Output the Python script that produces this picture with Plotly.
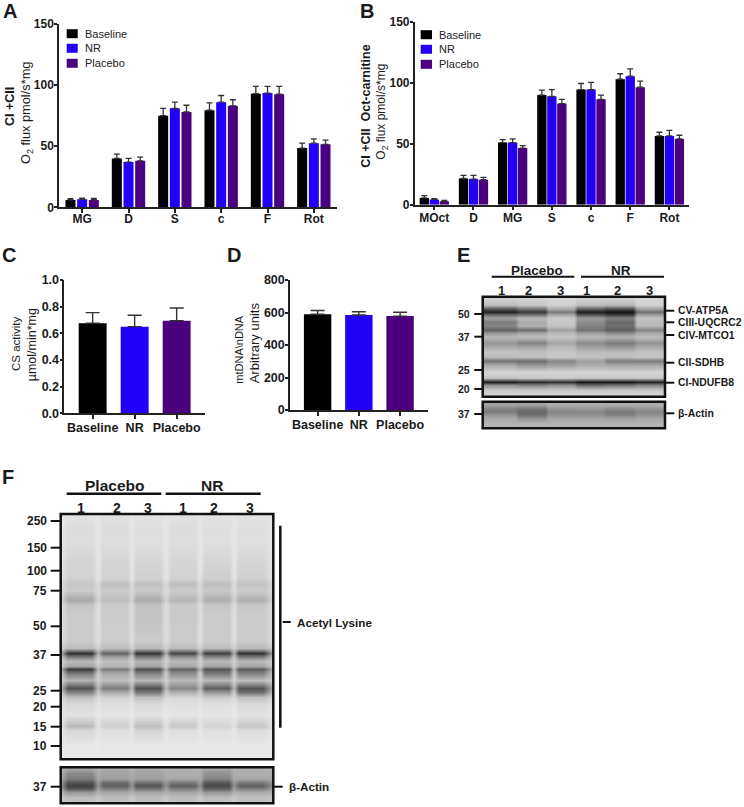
import plotly.graph_objects as go

# ---------- data ----------
GROUPS = ["Baseline", "NR", "Placebo"]
BLACK, BLUE, PURPLE = "#000000", "#2200F5", "#4B0080"
COLORS = [BLACK, BLUE, PURPLE]

A_CATS = ["MG", "D", "S", "c", "F", "Rot"]
A_BASE = [6, 40, 75, 79.5, 93, 48.5]
A_NR = [6.5, 37, 81, 86, 93.5, 52.5]
A_PLAC = [6, 38, 78, 83, 92.5, 51.5]
A_BASE_ERR = [1, 3.5, 6, 6, 6, 4]
A_NR_ERR = [1, 3, 5, 5.5, 5.5, 3.5]
A_PLAC_ERR = [1.2, 3, 5.5, 5, 6.5, 3.5]

B_CATS = ["MOct", "D", "MG", "S", "c", "F", "Rot"]
B_BASE = [5.5, 21.5, 51, 90, 94.5, 103, 56.5]
B_NR = [4.3, 21, 51, 89, 94.5, 105.5, 56.5]
B_PLAC = [2.8, 20.5, 46.5, 83, 86.5, 96.5, 54]
B_BASE_ERR = [2, 2.5, 2.5, 4, 5, 4.5, 3]
B_NR_ERR = [0.7, 3, 3, 5.5, 6, 6, 4.5]
B_PLAC_ERR = [0.7, 2, 2, 3.5, 3.5, 5, 3]

C_VALS = [0.675, 0.65, 0.695]
C_ERR = [0.08, 0.085, 0.095]
D_VALS = [590, 585, 578]
D_ERR = [22, 20, 24]

# Blot E: grey level per lane (6 lanes) at each row
E_LANES = [501.7, 531.7, 561, 590, 620, 650]
E_ROWS = [297, 305, 309, 312, 315, 318, 322, 326, 330, 333, 337, 343, 347, 352, 357, 361, 365, 372, 378, 382, 385, 390, 397]
E_GREYS = [
    [212, 212, 214, 212, 212, 214],
    [190, 200, 210, 190, 185, 210],
    [85, 115, 170, 95, 75, 160],
    [35, 55, 120, 30, 20, 110],
    [110, 120, 170, 90, 65, 160],
    [165, 185, 200, 155, 130, 195],
    [125, 170, 200, 140, 105, 190],
    [135, 175, 195, 130, 110, 185],
    [95, 110, 160, 115, 95, 130],
    [150, 165, 185, 160, 140, 170],
    [185, 190, 200, 185, 180, 190],
    [150, 130, 165, 140, 125, 145],
    [170, 165, 185, 160, 150, 170],
    [198, 192, 200, 188, 190, 196],
    [188, 192, 200, 196, 192, 196],
    [115, 110, 135, 160, 125, 125],
    [170, 150, 160, 172, 168, 168],
    [212, 212, 212, 212, 212, 212],
    [198, 202, 202, 202, 202, 202],
    [25, 40, 45, 20, 20, 30],
    [140, 130, 140, 105, 115, 130],
    [200, 200, 200, 200, 200, 200],
    [218, 218, 218, 218, 218, 218],
]
E_ACT_ROWS = [402, 406, 409, 412, 415, 418, 423, 428]
E_ACT_GREYS = [
    [172, 172, 176, 176, 176, 176],
    [155, 150, 170, 170, 168, 170],
    [130, 115, 145, 148, 135, 145],
    [125, 105, 135, 135, 122, 135],
    [150, 110, 145, 145, 130, 145],
    [168, 145, 163, 163, 158, 166],
    [178, 178, 178, 178, 178, 178],
    [186, 186, 186, 186, 186, 186],
]

# Blot F: grey level per lane, plus the lighter gap between lanes
F_LANES = [80, 115, 148, 182.5, 217, 251]
F_ROWS = [514, 530, 540, 560, 578, 584, 590, 600, 605, 619, 630, 640, 648, 653, 657, 661, 666, 669, 673, 680, 688, 692, 697, 703, 715, 726, 730, 745, 759]
F_GREYS = [
    [226, 226, 226, 226, 226, 226],
    [220, 220, 222, 220, 222, 222],
    [222, 222, 223, 222, 223, 223],
    [213, 214, 214, 214, 214, 214],
    [210, 210, 208, 210, 206, 208],
    [198, 190, 192, 190, 190, 194],
    [203, 203, 201, 203, 201, 203],
    [168, 190, 172, 182, 174, 176],
    [198, 203, 196, 201, 198, 198],
    [203, 203, 196, 201, 203, 203],
    [203, 206, 198, 203, 203, 203],
    [203, 203, 203, 203, 203, 203],
    [188, 190, 186, 188, 188, 186],
    [50, 100, 55, 70, 65, 50],
    [130, 165, 130, 150, 140, 130],
    [185, 190, 180, 185, 185, 185],
    [165, 180, 165, 170, 165, 165],
    [60, 125, 80, 100, 85, 90],
    [120, 170, 130, 140, 120, 130],
    [180, 190, 185, 185, 185, 190],
    [80, 125, 80, 135, 95, 85],
    [130, 170, 120, 175, 150, 110],
    [190, 210, 190, 215, 205, 190],
    [215, 222, 215, 222, 222, 215],
    [226, 228, 226, 228, 228, 226],
    [185, 208, 190, 202, 212, 200],
    [215, 222, 212, 222, 224, 220],
    [230, 230, 230, 230, 230, 230],
    [232, 232, 232, 232, 232, 232],
]
F_GAPS = [230, 230, 230, 230, 228, 220, 220, 213, 223, 223, 223, 223, 210, 175, 205, 210, 205, 185, 205, 210, 185, 205, 220, 228, 232, 228, 230, 232, 234]
F_ACT_ROWS = [767, 772, 778, 782, 785, 788, 792, 797, 803]
F_ACT_GREYS = [
    [175, 175, 175, 175, 175, 175],
    [140, 165, 165, 175, 150, 175],
    [125, 160, 160, 170, 135, 170],
    [85, 110, 115, 125, 90, 125],
    [65, 95, 85, 95, 75, 95],
    [85, 125, 115, 125, 95, 125],
    [155, 170, 170, 170, 155, 175],
    [190, 190, 190, 190, 190, 190],
    [195, 195, 195, 195, 195, 195],
]
F_ACT_GAPS = [180, 175, 170, 155, 145, 160, 180, 200, 205]

# ---------- layout helpers ----------
W, H = 744, 807
FONT = "Liberation Sans"
INK = "#1a1a1a"


def px(x):
    return x / W


def py(y):
    return 1 - y / H


fig = go.Figure()
annotations, shapes = [], []


def txt(x, y, s, size=12, bold=True, anchor="left", angle=0, color=INK):
    annotations.append(dict(
        x=px(x), y=py(y), xref="paper", yref="paper", text=f"<b>{s}</b>" if bold else s,
        showarrow=False, xanchor="center" if angle else anchor, yanchor="middle", textangle=angle, borderpad=0,
        font=dict(family=FONT, size=size, color=color)))


def line(x0, y0, x1, y1, w=2):
    shapes.append(dict(type="line", xref="paper", yref="paper", x0=px(x0), y0=py(y0), x1=px(x1), y1=py(y1),
                       line=dict(color="#111111", width=w)))


def box(x0, y0, x1, y1, w=2.5):
    shapes.append(dict(type="rect", xref="paper", yref="paper", x0=px(x0), y0=py(y0), x1=px(x1), y1=py(y1),
                       line=dict(color="#111111", width=w), fillcolor="rgba(0,0,0,0)", layer="above"))


def set_axes(n, x0, x1, ytop, ybot, xr, yr, ytickvals, yfmt=None, ytsize=12, xtsize=12, xstand=-3):
    xa = "xaxis" if n == 1 else f"xaxis{n}"
    ya = "yaxis" if n == 1 else f"yaxis{n}"
    fig.update_layout(**{
        xa: dict(domain=[px(x0), px(x1)], range=xr, type="category", anchor=f"y{n if n > 1 else ''}",
                 showline=True, linecolor="#222222", linewidth=1.5, ticks="outside", ticklen=4, tickwidth=1.5,
                 tickcolor="#222222", showgrid=False, zeroline=False, ticklabelstandoff=xstand,
                 tickfont=dict(family=FONT, size=xtsize, color=INK, weight=700)),
        ya: dict(domain=[py(ybot), py(ytop)], range=yr, anchor=f"x{n if n > 1 else ''}",
                 showline=True, linecolor="#222222", linewidth=1.5, ticks="outside", ticklen=3, tickwidth=1.5,
                 tickcolor="#222222", showgrid=False, zeroline=False, tickvals=ytickvals, tickformat=yfmt,
                 ticklabelstandoff=-2,
                 tickfont=dict(family=FONT, size=ytsize, color=INK, weight=700)),
    })


def grouped(n, cats, series, errs, width, slot):
    ax = "" if n == 1 else str(n)
    for i, (name, vals, err) in enumerate(zip(GROUPS, series, errs)):
        fig.add_trace(go.Bar(
            x=cats, y=vals, name=name, xaxis=f"x{ax}", yaxis=f"y{ax}", marker=dict(color=COLORS[i], line_width=0),
            width=width, offset=-width / 2 + (i - 1) * slot, showlegend=False,
            error_y=dict(type="data", array=err, arrayminus=[0] * len(err), symmetric=False,
                         color="#333333", thickness=1.3, width=3)))


def single(n, vals, err):
    ax = str(n)
    fig.add_trace(go.Bar(
        x=GROUPS, y=vals, xaxis=f"x{ax}", yaxis=f"y{ax}", marker=dict(color=COLORS, line_width=0),
        width=0.665, showlegend=False,
        error_y=dict(type="data", array=err, arrayminus=[0] * 3, symmetric=False,
                     color="#333333", thickness=1.4, width=7)))


def blot(n, x0, x1, ytop, ybot, lanes, rows, greys, gaps=None, half=12):
    xs, expanded = [x0], [[] for _ in rows]
    for j, c in enumerate(lanes):
        xs += [c - half, c + half]
        if j < len(lanes) - 1:
            xs.append((c + lanes[j + 1]) / 2)
    xs.append(x1)
    for r, row in enumerate(greys):
        edge = gaps[r] if gaps else row[0]
        out = [edge]
        for j, v in enumerate(row):
            out += [v, v]
            if j < len(row) - 1:
                out.append(gaps[r] if gaps else (v + row[j + 1]) / 2)
        out.append(gaps[r] if gaps else row[-1])
        expanded[r] = out
    fig.add_trace(go.Heatmap(
        x=xs, y=rows, z=expanded, xaxis=f"x{n}", yaxis=f"y{n}", zmin=0, zmax=255, zsmooth="best",
        colorscale=[[0, "#000000"], [1, "#ffffff"]], showscale=False, hoverinfo="skip"))
    fig.update_layout(**{
        f"xaxis{n}": dict(domain=[px(x0), px(x1)], range=[x0, x1], visible=False, anchor=f"y{n}"),
        f"yaxis{n}": dict(domain=[py(ybot), py(ytop)], range=[ybot, ytop], visible=False, anchor=f"x{n}"),
    })
    box(x0, ytop, x1, ybot)


# ---------- panels A-D ----------
grouped(1, A_CATS, [A_BASE, A_NR, A_PLAC], [A_BASE_ERR, A_NR_ERR, A_PLAC_ERR], 0.216, 0.252)
set_axes(1, 59, 337, 24, 207.3, [-0.5, 5.5], [0, 150], [0, 50, 100, 150], xtsize=12, xstand=-4)

grouped(2, B_CATS, [B_BASE, B_NR, B_PLAC], [B_BASE_ERR, B_NR_ERR, B_PLAC_ERR], 0.238, 0.255)
set_axes(2, 414.7, 689, 22, 204.7, [-0.5, 6.5], [0, 150], [0, 50, 100, 150], xtsize=12, xstand=-3)

single(3, C_VALS, C_ERR)
set_axes(3, 64.3, 205, 280, 413.3, [-0.675, 2.675], [0, 1], [0, 0.2, 0.4, 0.6, 0.8, 1.0], yfmt=".1f", ytsize=12.5, xtsize=12.5, xstand=-2)

single(4, D_VALS, D_ERR)
set_axes(4, 290, 427.7, 280, 410, [-0.67, 2.67], [0, 800], [0, 200, 400, 600, 800], ytsize=12.5, xtsize=12.5, xstand=-2)

for (x0, x1, tx, ys) in [(66.7, 77.7, 84.3, [33.7, 48.3, 63.3]), (420.7, 432, 438, [34.7, 49.3, 64.3])]:
    for name, col, y in zip(GROUPS, COLORS, ys):
        shapes.append(dict(type="rect", xref="paper", yref="paper", x0=px(x0), x1=px(x1), y0=py(y - 4.5), y1=py(y + 4.5),
                           fillcolor=col, line_width=0))
        txt(tx, y, name, size=11, bold=False, color="#222222")

txt(10, 107, "CI +CII", 12.5, angle=-90)
txt(27, 113, "O<sub>2</sub> flux pmol/s*mg", 12.8, bold=False, angle=-90)
txt(365.7, 106, "CI +CII  Oct-carnitine", 12.5, angle=-90)
txt(382, 111.7, "O<sub>2</sub> flux pmol/s*mg", 12, bold=False, angle=-90)
txt(16, 344, "CS activity", 11.5, bold=False, angle=-90)
txt(32.3, 345, "µmol/min*mg", 12.5, bold=False, angle=-90)
txt(238.7, 349, "mtDNA\\nDNA", 11, bold=False, angle=-90)
txt(254.3, 343, "Arbitrary units", 13, bold=False, angle=-90)

for s, x, y in [("A", 2, 11), ("B", 359, 11), ("C", 1, 255), ("D", 226, 255), ("E", 456, 255.5), ("F", 1, 476.7)]:
    txt(x, y, s, 20)

# ---------- panel E ----------
blot(5, 482.7, 665, 296.7, 396.7, E_LANES, E_ROWS, E_GREYS, half=13)
blot(6, 482.7, 665, 401.7, 428.3, E_LANES, E_ACT_ROWS, E_ACT_GREYS, half=13)
txt(537.3, 270, "Placebo", 13.5, anchor="center")
txt(621, 270, "NR", 13.5, anchor="center")
line(491.7, 276.7, 574.3, 276.7)
line(581, 276.7, 664, 276.7)
for s, x in zip("123123", [501.7, 528.7, 560, 586.7, 617.7, 649]):
    txt(x, 290, s, 13, anchor="center")
for s, y in [("50", 314), ("37", 336.7), ("25", 370), ("20", 389), ("37", 414)]:
    txt(470.7, y, s, 10.5, anchor="right")
    line(474.3, y, 482.7, y)
for s, y in [("CV-ATP5A", 310.7), ("CIII-UQCRC2", 322.3), ("CIV-MTCO1", 335), ("CII-SDHB", 362.7), ("CI-NDUFB8", 382.7), ("β-Actin", 413.3)]:
    txt(676.7, y, s, 10.4)
    line(665, y, 674.3, y)

# ---------- panel F ----------
blot(7, 60.7, 273.3, 514, 759.3, F_LANES, F_ROWS, F_GREYS, gaps=F_GAPS)
blot(8, 60.7, 273.3, 767.3, 803.3, F_LANES, F_ACT_ROWS, F_ACT_GREYS, gaps=F_ACT_GAPS)
txt(114, 485, "Placebo", 15.5, anchor="center")
txt(211.7, 485, "NR", 15.5, anchor="center")
line(66.7, 493.7, 161.3, 493.7, 2.5)
line(165.7, 493.7, 260.7, 493.7, 2.5)
for s, x in zip("123123", [81, 116.7, 148, 182.7, 214.3, 250]):
    txt(x, 507.7, s, 14, anchor="center")
for s, y in [("250", 521), ("150", 547.7), ("100", 570.7), ("75", 590.7), ("50", 626.3), ("37", 655),
             ("25", 690.7), ("20", 706.7), ("15", 726.7), ("10", 746), ("37", 786.7)]:
    txt(47.7, y, s, 12, anchor="right")
    line(50.7, y, 60.7, y)
line(280.3, 525.7, 280.3, 727.7, 2.5)
line(282.7, 622, 290.7, 622)
txt(295.7, 622, "Acetyl Lysine", 11.7)
line(273.3, 786.7, 282.7, 786.7)
txt(288.3, 786.7, "β-Actin", 11.7)

fig.update_layout(
    width=W, height=H, autosize=False, margin=dict(l=0, r=0, t=0, b=0, autoexpand=False),
    paper_bgcolor="white", plot_bgcolor="white", barmode="overlay", showlegend=False,
    annotations=annotations, shapes=shapes, font=dict(family=FONT),
)
fig.write_html("out.html", post_script="document.body.style.margin='0';", config=dict(displayModeBar=False))
